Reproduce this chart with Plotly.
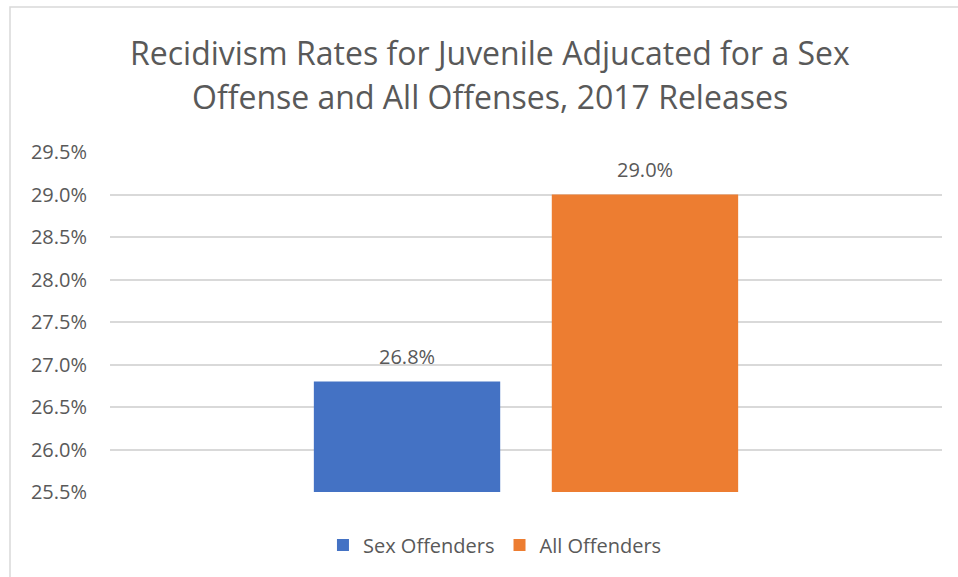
import plotly.graph_objects as go

# Recidivism rates (percent) by offender group, 2017 releases
series_names = ["Sex Offenders", "All Offenders"]
rates = [26.8, 29.0]
colors = ["#4472C4", "#ED7D31"]
y_ticks = [25.5, 26.0, 26.5, 27.0, 27.5, 28.0, 28.5, 29.0, 29.5]

title_lines = ["Recidivism Rates for Juvenile Adjucated for a Sex",
               "Offense and All Offenses, 2017 Releases"]

FONT = "Open Sans, Noto Sans, sans-serif"
GRAY = "#595959"

# each series sits in a single shared category; offsets place the two bars
bar_offsets = [-0.255, 0.031]
bar_width = 0.224

fig = go.Figure()
for name, val, col, off in zip(series_names, rates, colors, bar_offsets):
    fig.add_trace(go.Bar(
        x=[0], y=[val], name=name,
        marker=dict(color=col, line=dict(width=0)),
        offset=off, width=bar_width,
    ))
    # value label above the bar
    fig.add_annotation(
        x=off + bar_width / 2, y=val, xref="x", yref="y",
        text=f"{val:.1f}%", showarrow=False,
        yanchor="middle", yshift=25,
        font=dict(size=20, color=GRAY, family=FONT),
    )

# two-line chart title
for line, ypos in zip(title_lines, [1.294, 1.162]):
    fig.add_annotation(
        x=0.4567, y=ypos, xref="paper", yref="paper",
        text=line, showarrow=False, xanchor="center", yanchor="middle",
        font=dict(size=32, color=GRAY, family=FONT),
    )

fig.update_layout(
    width=958, height=577,
    margin=dict(l=110, r=16, t=152, b=85),
    paper_bgcolor="white", plot_bgcolor="white",
    font=dict(family=FONT, color=GRAY),
    barmode="overlay",
    showlegend=True,
    legend=dict(orientation="h", x=0.4627, xanchor="center",
                y=-0.156, yanchor="middle",
                font=dict(size=20, color=GRAY, family=FONT),
                itemwidth=30, traceorder="normal"),
    xaxis=dict(range=[-0.5, 0.5], showticklabels=False, showgrid=False,
               zeroline=False, showline=False, ticks=""),
    yaxis=dict(range=[25.5, 29.5], tickvals=y_ticks,
               ticktext=[f"{v:.1f}%" for v in y_ticks],
               showgrid=True, gridcolor="#D9D9D9", gridwidth=1.5,
               zeroline=False, showline=False, ticks="",
               tickfont=dict(size=20, color=GRAY, family=FONT),
               ticklabelstandoff=22),
    shapes=[dict(type="rect", xref="paper", yref="paper",
                 x0=-0.1202, x1=1.1, y0=-0.5, y1=1.4265,
                 line=dict(color="#D9D9D9", width=1.5),
                 fillcolor="rgba(0,0,0,0)", layer="below")],
)

fig.write_html("out.html")
